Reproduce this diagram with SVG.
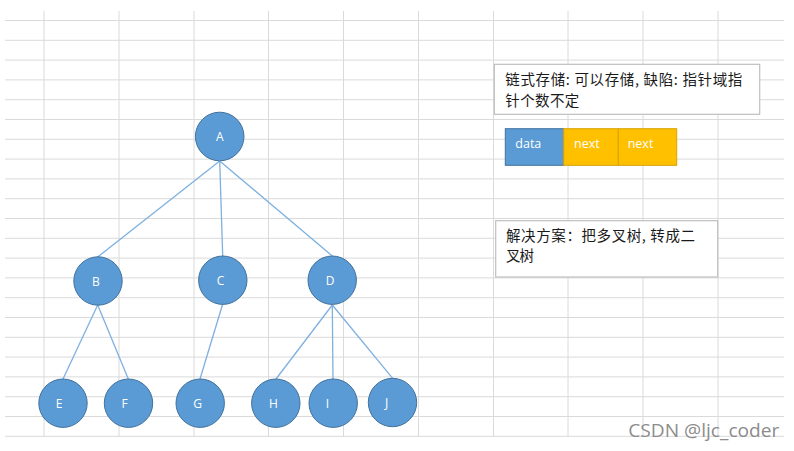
<svg xmlns="http://www.w3.org/2000/svg" width="794" height="451" viewBox="0 0 794 451">
<defs>
<style>
.grid line{stroke:#dadada;stroke-width:1}
.node circle{fill:#5b9bd5;stroke:#41719c;stroke-width:1}
.node text{fill:#ffffff;font-family:"Open Sans","Liberation Sans",sans-serif;font-size:12px;text-anchor:middle}
.edges line{stroke:#7eb0e0;stroke-width:1.3}
.note rect{fill:#ffffff;stroke:#bfbfbf;stroke-width:1.2}
.note text{fill:#1a1a1a;font-family:"Noto Sans CJK SC","Liberation Sans",sans-serif;font-size:14.5px}
.cell text{fill:#ffffff;font-family:"Open Sans","Liberation Sans",sans-serif;font-size:12.5px}
</style>
</defs>
<rect x="0" y="0" width="794" height="451" fill="#ffffff"/>
<g class="grid">
<line x1="5" y1="20.5" x2="784" y2="20.5"/>
<line x1="5" y1="40.3" x2="784" y2="40.3"/>
<line x1="5" y1="60.1" x2="784" y2="60.1"/>
<line x1="5" y1="79.9" x2="784" y2="79.9"/>
<line x1="5" y1="99.7" x2="784" y2="99.7"/>
<line x1="5" y1="119.5" x2="784" y2="119.5"/>
<line x1="5" y1="139.3" x2="784" y2="139.3"/>
<line x1="5" y1="159.1" x2="784" y2="159.1"/>
<line x1="5" y1="178.9" x2="784" y2="178.9"/>
<line x1="5" y1="198.7" x2="784" y2="198.7"/>
<line x1="5" y1="218.5" x2="784" y2="218.5"/>
<line x1="5" y1="238.3" x2="784" y2="238.3"/>
<line x1="5" y1="258.1" x2="784" y2="258.1"/>
<line x1="5" y1="277.9" x2="784" y2="277.9"/>
<line x1="5" y1="297.7" x2="784" y2="297.7"/>
<line x1="5" y1="317.5" x2="784" y2="317.5"/>
<line x1="5" y1="337.3" x2="784" y2="337.3"/>
<line x1="5" y1="357.1" x2="784" y2="357.1"/>
<line x1="5" y1="376.9" x2="784" y2="376.9"/>
<line x1="5" y1="396.7" x2="784" y2="396.7"/>
<line x1="5" y1="416.5" x2="784" y2="416.5"/>
<line x1="5" y1="436.3" x2="784" y2="436.3"/>
<line x1="44" y1="11" x2="44" y2="436.3"/>
<line x1="119" y1="11" x2="119" y2="436.3"/>
<line x1="194" y1="11" x2="194" y2="436.3"/>
<line x1="268.5" y1="11" x2="268.5" y2="436.3"/>
<line x1="343.5" y1="11" x2="343.5" y2="436.3"/>
<line x1="418.5" y1="11" x2="418.5" y2="436.3"/>
<line x1="493.5" y1="11" x2="493.5" y2="436.3"/>
<line x1="568" y1="11" x2="568" y2="436.3"/>
<line x1="643" y1="11" x2="643" y2="436.3"/>
<line x1="718" y1="11" x2="718" y2="436.3"/>
</g>
<g class="edges">
<line x1="219.7" y1="161" x2="97.3" y2="257.3"/>
<line x1="219.7" y1="161" x2="222.7" y2="256"/>
<line x1="219.7" y1="161" x2="332.3" y2="256"/>
<line x1="97.7" y1="305" x2="63" y2="379"/>
<line x1="97.7" y1="305" x2="128.3" y2="379"/>
<line x1="222.7" y1="304" x2="200" y2="379"/>
<line x1="332.3" y1="305" x2="276" y2="379"/>
<line x1="332.3" y1="305" x2="333" y2="379"/>
<line x1="332.3" y1="305" x2="392.7" y2="378.3"/>
</g>
<g id="A" class="node"><circle cx="219.7" cy="136.5" r="24.3"/><text x="219.7" y="141">A</text></g>
<g id="B" class="node"><circle cx="98" cy="281" r="24.2"/><text x="96" y="285.5">B</text></g>
<g id="C" class="node"><circle cx="222.8" cy="280.2" r="24.2"/><text x="220.5" y="284.5">C</text></g>
<g id="D" class="node"><circle cx="332.2" cy="280.2" r="24.2"/><text x="330" y="284.5">D</text></g>
<g id="E" class="node"><circle cx="63" cy="403.2" r="24.2"/><text x="59" y="407.5">E</text></g>
<g id="F" class="node"><circle cx="128.5" cy="403.2" r="24.2"/><text x="124.5" y="407.5">F</text></g>
<g id="G" class="node"><circle cx="200.2" cy="403.2" r="24.2"/><text x="197.5" y="407.5">G</text></g>
<g id="H" class="node"><circle cx="275.8" cy="403.2" r="24.2"/><text x="273.5" y="407.5">H</text></g>
<g id="I" class="node"><circle cx="333.2" cy="403.2" r="24.2"/><text x="327.5" y="407.5">I</text></g>
<g id="J" class="node"><circle cx="392.5" cy="402.5" r="24.2"/><text x="386.5" y="406.5">J</text></g>
<g id="note1" class="note">
<rect x="494.3" y="64.3" width="265.4" height="50"/>
<text x="505.3" y="84.5" textLength="237" lengthAdjust="spacing">链式存储: 可以存储, 缺陷: 指针域指</text>
<text x="505.3" y="105.5" textLength="74" lengthAdjust="spacing">针个数不定</text>
</g>
<g id="cells" class="cell">
<rect x="505.3" y="128.7" width="58.4" height="36.6" fill="#5b9bd5" stroke="#41719c" stroke-width="1"/>
<rect x="563.7" y="128.7" width="54.6" height="36.6" fill="#ffc000" stroke="#d6a300" stroke-width="1"/>
<rect x="618.3" y="128.7" width="58.4" height="36.6" fill="#ffc000" stroke="#d6a300" stroke-width="1"/>
<text x="515.3" y="148.3">data</text>
<text x="574" y="148.3">next</text>
<text x="627.7" y="148.3">next</text>
</g>
<g id="note2" class="note">
<rect x="495.7" y="220.7" width="222" height="56.3"/>
<text x="506" y="241" textLength="189" lengthAdjust="spacing">解决方案：把多叉树, 转成二</text>
<text x="506" y="261" textLength="28" lengthAdjust="spacing">叉树</text>
</g>
<text x="628.3" y="436.5" textLength="151" lengthAdjust="spacingAndGlyphs" fill="#8c8c8c" font-family="'Open Sans','Noto Sans','Liberation Sans',sans-serif" font-size="18">CSDN @ljc_coder</text>
</svg>
